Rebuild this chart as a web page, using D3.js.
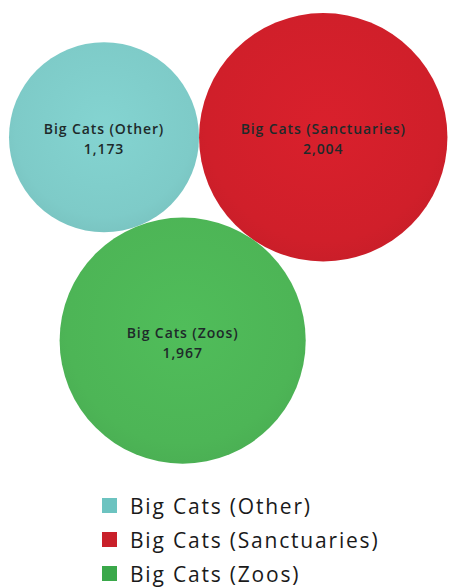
<!DOCTYPE html>
<html lang="en">
<head>
<meta charset="UTF-8">
<title>Big Cats</title>
<script src="https://cdnjs.cloudflare.com/ajax/libs/d3/7.8.5/d3.min.js"></script>
<style>
  body { margin: 0; background: #fff; }
  svg { display: block; font-family: "Open Sans", "Noto Sans", sans-serif; }
</style>
</head>
<body>
<div id="chart"></div>
<script>
// data
const categories = ["Big Cats (Other)", "Big Cats (Sanctuaries)", "Big Cats (Zoos)"];
const values = [1173, 2004, 1967];
const colors = ["#7ecbc8", "#d01f2a", "#4db556"];
const legendColors = ["#6cc3c0", "#c9202a", "#3aa84a"];

const width = 449, height = 587;

const svg = d3.select("#chart").append("svg")
  .attr("width", width)
  .attr("height", height);

// bubble radius by area
const r = d3.scaleSqrt().domain([0, d3.max(values)]).range([0, 124.2]);

const nodes = categories.map((c, i) => ({ name: c, value: values[i], color: colors[i], r: r(values[i]) }));
d3.packSiblings(nodes);

// shift layout so it sits like the reference (left edge ~9, top edge ~13)
const minX = d3.min(nodes, d => d.x - d.r);
const minY = d3.min(nodes, d => d.y - d.r);
const g = svg.append("g").attr("transform", `translate(${9 - minX},${13 - minY})`);

const defs = svg.append("defs");
nodes.forEach((d, i) => {
  const grad = defs.append("radialGradient").attr("id", "grad" + i)
    .attr("cx", "50%").attr("cy", "45%").attr("r", "55%");
  grad.append("stop").attr("offset", "0%").attr("stop-color", d3.color(d.color).brighter(0.12));
  grad.append("stop").attr("offset", "85%").attr("stop-color", d.color);
  grad.append("stop").attr("offset", "100%").attr("stop-color", d3.color(d.color).darker(0.08));
});

const bubble = g.selectAll(".bubble")
  .data(nodes)
  .enter().append("g")
  .attr("class", "bubble")
  .attr("transform", d => `translate(${d.x},${d.y})`);

bubble.append("circle")
  .attr("r", d => d.r)
  .attr("fill", (d, i) => `url(#grad${i})`);

bubble.append("text")
  .attr("text-anchor", "middle")
  .attr("y", -3)
  .attr("font-size", "14px")
  .attr("font-weight", 600)
  .attr("letter-spacing", "0.9px")
  .attr("fill", "#1e2a2a")
  .text(d => d.name);

bubble.append("text")
  .attr("text-anchor", "middle")
  .attr("y", 17)
  .attr("font-size", "14px")
  .attr("font-weight", 600)
  .attr("letter-spacing", "0.9px")
  .attr("fill", "#1e2a2a")
  .text(d => d3.format(",")(d.value));

// legend
const legend = svg.append("g").attr("transform", "translate(102,498)");
const row = legend.selectAll(".row")
  .data(categories)
  .enter().append("g")
  .attr("class", "row")
  .attr("transform", (d, i) => `translate(0,${i * 34})`);

row.append("rect")
  .attr("width", 15)
  .attr("height", 15)
  .attr("fill", (d, i) => legendColors[i]);

row.append("text")
  .attr("x", 28)
  .attr("y", 16)
  .attr("font-size", "21px")
  .attr("letter-spacing", "1.8px")
  .attr("fill", "#1a1a1a")
  .text(d => d);
</script>
</body>
</html>
